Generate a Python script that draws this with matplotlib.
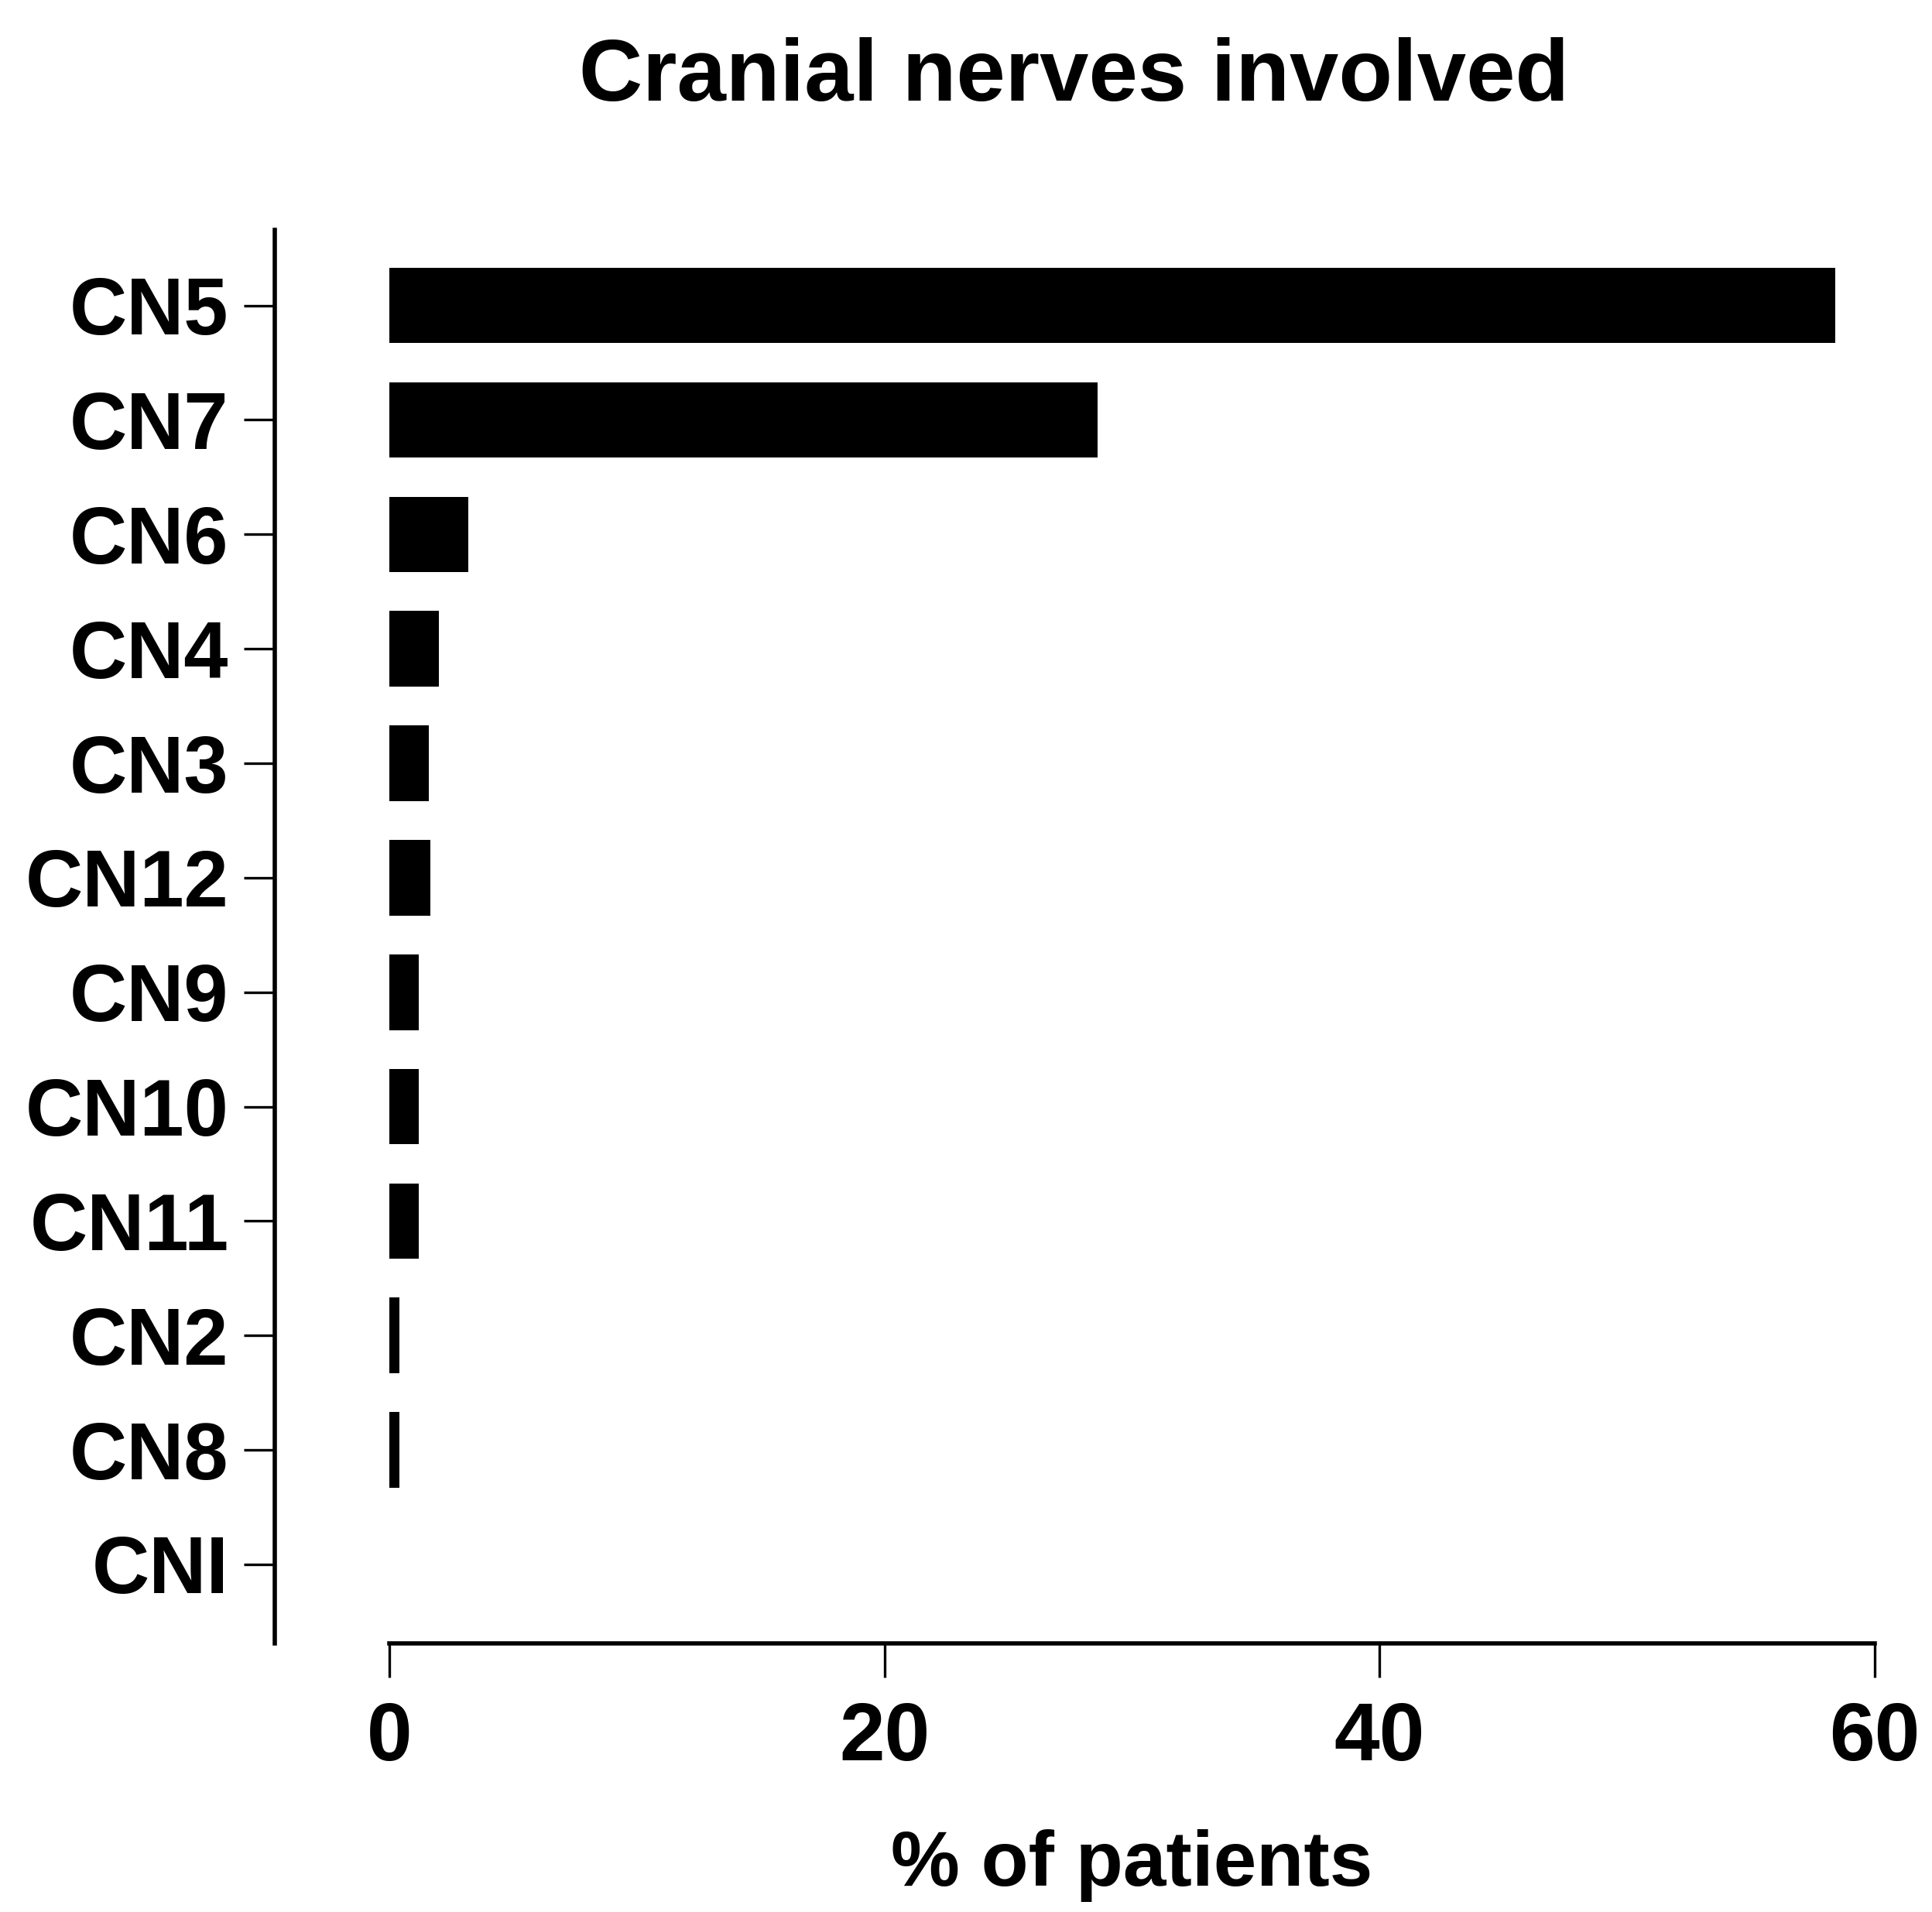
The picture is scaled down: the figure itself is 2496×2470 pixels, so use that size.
import matplotlib
matplotlib.use('Agg')
import matplotlib.pyplot as plt

# Dados
nerves = ['CN5', 'CN7', 'CN6', 'CN4', 'CN3', 'CN12', 'CN9', 'CN10', 'CN11', 'CN2', 'CN8', 'CNI']
pct_patients = [58.4, 28.6, 3.2, 2.0, 1.6, 1.65, 1.2, 1.2, 1.2, 0.4, 0.4, 0.0]

plt.rcParams['font.family'] = ['Liberation Sans', 'DejaVu Sans']
plt.rcParams['font.weight'] = 'bold'

W, H, dpi = 2496, 2470, 200
fig = plt.figure(figsize=(W / dpi, H / dpi), dpi=dpi)

# eixo: x de 503 a 2422 px, y de 297 a 2123 px
left, right, top, bottom = 503, 2422, 297, 2123
ax = fig.add_axes([left / W, 1 - bottom / H, (right - left) / W, (bottom - top) / H])

y = list(range(len(nerves)))
ax.barh(y, pct_patients, height=0.66, color='black')

ax.set_xlim(0, 60)
ax.set_ylim(11.69, -0.66)
ax.set_xticks([0, 20, 40, 60])
ax.set_yticks(y)
ax.set_yticklabels(nerves)

for s in ['top', 'right']:
    ax.spines[s].set_visible(False)
ax.spines['left'].set_position(('outward', 148 / dpi * 72))
ax.spines['left'].set_linewidth(2.0)
ax.spines['bottom'].set_linewidth(2.0)

ax.tick_params(axis='y', length=14.4, width=1.2, pad=7, labelsize=37)
ax.tick_params(axis='x', length=15.8, width=1.2, pad=11, labelsize=38)
for lab in ax.get_xticklabels() + ax.get_yticklabels():
    lab.set_fontweight('bold')

ax.set_xlabel('% of patients', fontsize=36, fontweight='bold', labelpad=24)
fig.suptitle('Cranial nerves involved', fontsize=41, fontweight='bold',
             x=0.556, y=0.959, va='center')

fig.savefig('out.png', dpi=dpi, facecolor='white')
